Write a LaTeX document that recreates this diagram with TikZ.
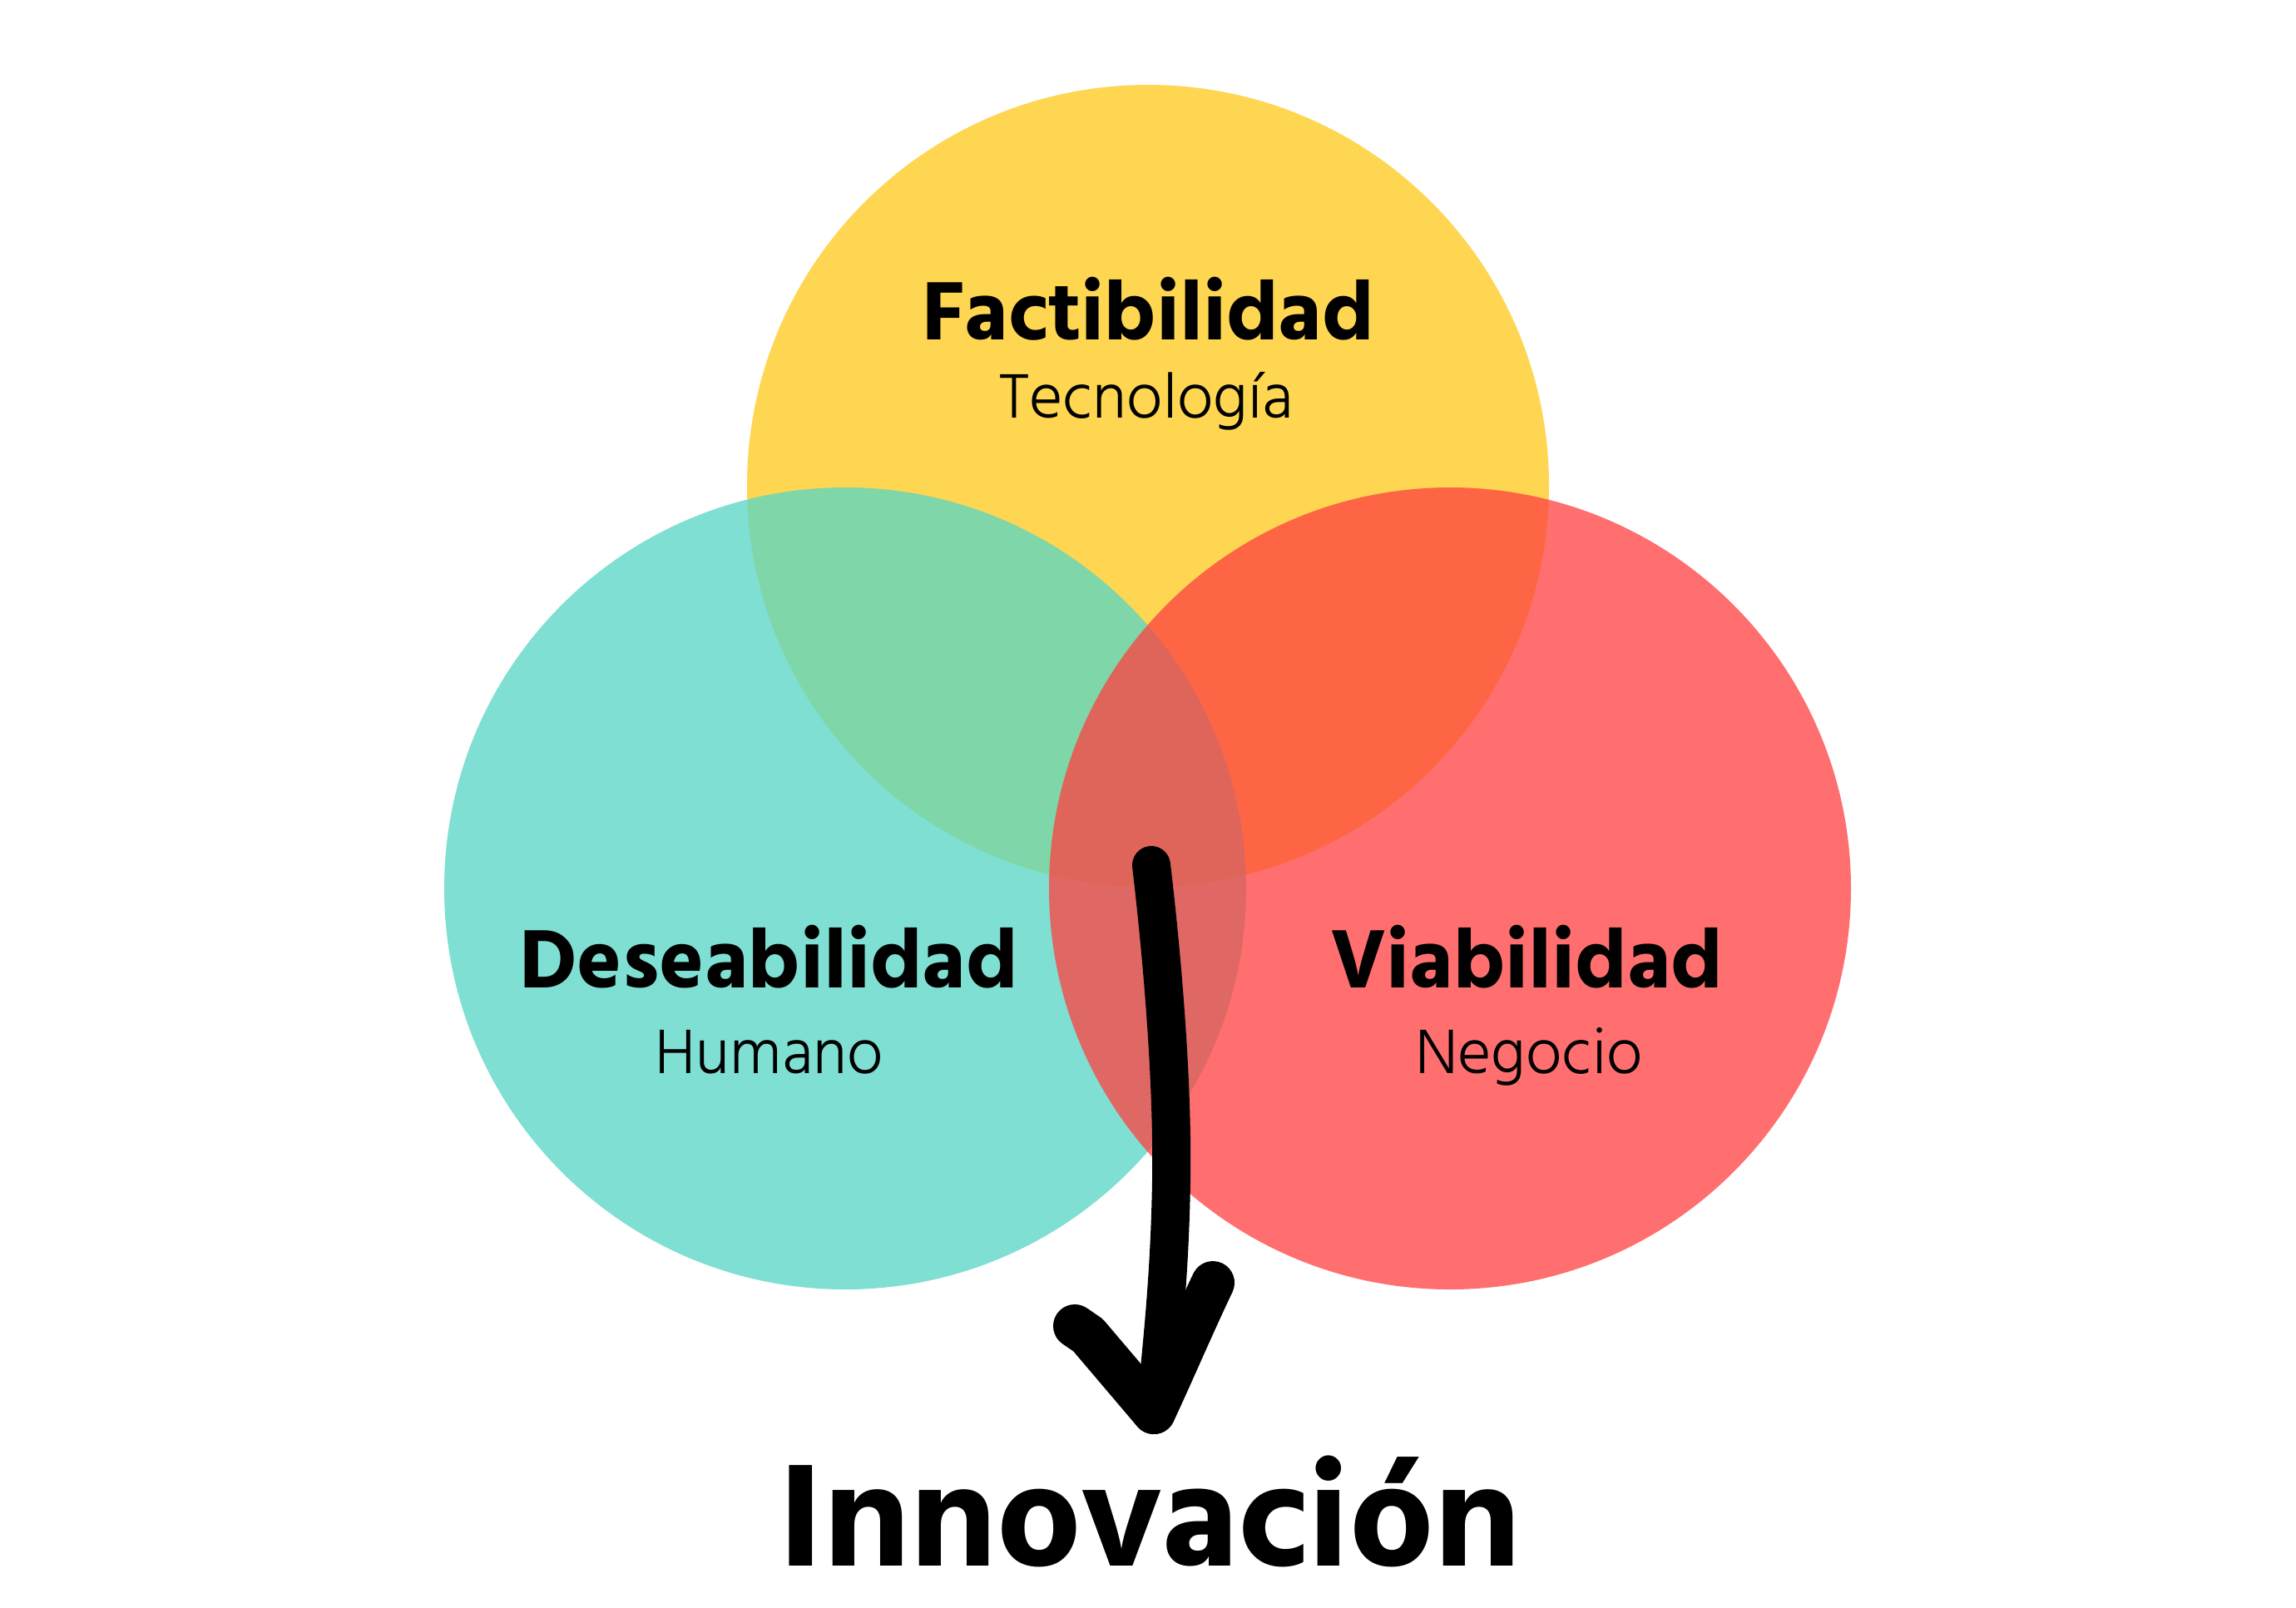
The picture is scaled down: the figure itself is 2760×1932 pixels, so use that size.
\documentclass[tikz,border=0pt]{standalone}
\usepackage{fontspec}
\newfontfamily\hindB{Hind Siliguri}[UprightFont={* Bold}]
\newfontfamily\hindL{Hind Siliguri}[UprightFont={* Light}]
\definecolor{cyellow}{RGB}{254,214,82}
\definecolor{cteal}{RGB}{87,214,196}
\definecolor{cred}{RGB}{255,66,66}
\begin{document}
\begin{tikzpicture}[x=0.01cm,y=-0.01cm,
  blob/.style={fill opacity=0.756},
  title/.style={font=\hindB\fontsize{29pt}{30pt}\selectfont, anchor=base, inner sep=0pt},
  subtitle/.style={font=\hindL\fontsize{22pt}{23pt}\selectfont, anchor=base, inner sep=0pt},
  big/.style={font=\hindB\fontsize{51pt}{52pt}\selectfont, anchor=base, inner sep=0pt, text depth=0pt},
  shaft/.style={line width=0.46cm, line cap=round, line join=round},
  headstroke/.style={line width=0.52cm, line cap=round, line join=round}]
\useasboundingbox (0,0) rectangle (2760,1932);
\fill[white] (0,0) rectangle (2760,1932);
% circles
\fill[cyellow] (1380,584) circle[radius=482];
\fill[cteal, blob] (1016,1068) circle[radius=482];
\fill[cred, blob] (1743,1068) circle[radius=482];
% labels
\node[title] (fact) at (1380,408) {Factibilidad};
\node[subtitle] (tec) at (1378,502) {Tecnología};
\node[title] (des) at (924,1187) {Deseabilidad};
\node[subtitle] (hum) at (925,1290) {Humano};
\node[title] (via) at (1835,1187) {Viabilidad};
\node[subtitle] (neg) at (1838,1290) {Negocio};
\node[big] (inn) at (1382,1882) {Innovación};
% arrow
\coordinate (a0) at (1384,1040);
\coordinate (tip) at (1387,1698);
\coordinate (la) at (1292,1594);
\coordinate (ra) at (1458,1542);
\draw[shaft] (a0) .. controls (1397,1150) and (1410,1300) .. (1408,1420) .. controls (1406,1540) and (1396,1620) .. (1390,1688);
\draw[headstroke] (la) -- (1308,1605) -- (tip);
\draw[headstroke] (ra) .. controls (1435,1590) and (1405,1660) .. (tip);
\end{tikzpicture}
\end{document}
